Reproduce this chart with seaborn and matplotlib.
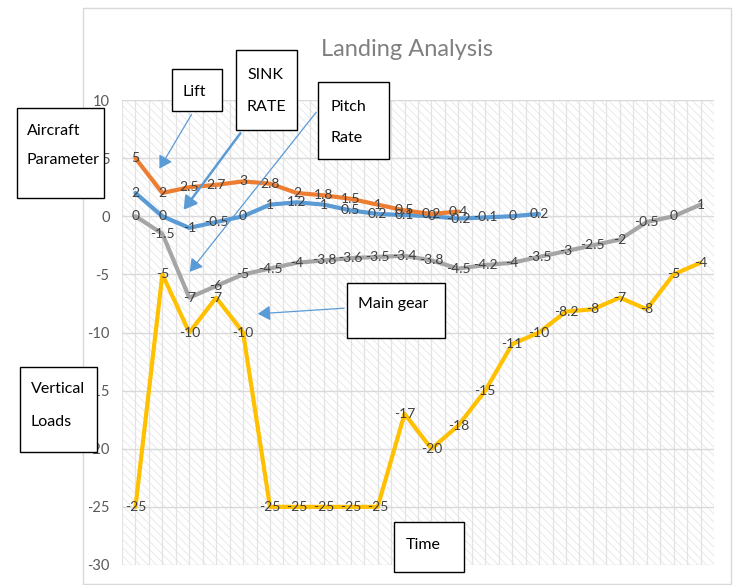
import numpy as np
import pandas as pd
import matplotlib
matplotlib.use("Agg")
import matplotlib.pyplot as plt
import matplotlib.patches as mpatches
import seaborn as sns

# ---- data ----
lift = [5, 2, 2.5, 2.7, 3, 2.8, 2, 1.8, 1.5, 1, 0.5, 0.2, 0.4]
sink_rate = [2, 0, -1, -0.5, 0, 1, 1.2, 1, 0.5, 0.2, 0.1, 0, -0.2, -0.1, 0, 0.2]
pitch_rate = [0, -1.5, -7, -6, -5, -4.5, -4, -3.8, -3.6, -3.5, -3.4, -3.8, -4.5,
              -4.2, -4, -3.5, -3, -2.5, -2, -0.5, 0, 1]
main_gear = [-25, -5, -10, -7, -10, -25, -25, -25, -25, -25, -17, -20, -18, -15,
             -11, -10, -8.2, -8, -7, -8, -5, -4]
y_ticks = [10, 5, 0, -5, -10, -15, -20, -25, -30]
title = "Landing Analysis"

series = {"Lift": lift, "Sink rate": sink_rate, "Pitch rate": pitch_rate,
          "Main gear": main_gear}
colors = {"Lift": "#ED7D31", "Sink rate": "#5B9BD5", "Pitch rate": "#A5A5A5",
          "Main gear": "#FFC000"}

rows = []
for name, vals in series.items():
    for i, v in enumerate(vals):
        rows.append({"t": i, "value": v, "series": name})
df = pd.DataFrame(rows)

sns.set_theme(style="white")
FONT = ["Lato", "DejaVu Sans"]
plt.rcParams["font.family"] = FONT
plt.rcParams["hatch.linewidth"] = 0.5
plt.rcParams["hatch.color"] = "#E2E2E2"

W, H = 733, 585
fig = plt.figure(figsize=(W / 100, H / 100), dpi=100)

def fx(x):
    return x / W

def fy(y):
    return 1 - y / H

# outer chart border
fig.add_artist(mpatches.Rectangle((fx(83), fy(584)), fx(731) - fx(83), fy(8) - fy(584),
                                  transform=fig.transFigure, facecolor="white",
                                  edgecolor="#D9D9D9", lw=1, zorder=0))

ax = fig.add_axes([fx(122), fy(565), fx(714) - fx(122), fy(100) - fy(565)])
ax.set_facecolor("none")
n = len(pitch_rate)
ax.set_xlim(-0.5, n - 0.5)
ax.set_ylim(-30, 10)

# hatched background
ax.add_patch(mpatches.Rectangle((-0.5, -30), n, 40, facecolor="white",
                                edgecolor="#E2E2E2", hatch="\\\\\\\\", lw=0, zorder=0))
for xv in np.arange(-0.5, n - 0.5 + 0.01, 0.5):
    ax.axvline(xv, color="#E3E3E3", lw=0.9, zorder=0.5)
for yv in y_ticks:
    ax.axhline(yv, color="#D9D9D9", lw=1.0, zorder=0.6)

sns.lineplot(data=df, x="t", y="value", hue="series", palette=colors,
             hue_order=["Main gear", "Pitch rate", "Sink rate", "Lift"],
             linewidth=3, legend=False, ax=ax, zorder=3)

for name, vals in series.items():
    for i, v in enumerate(vals):
        ax.text(i, v, f"{v:g}", ha="center", va="center", fontsize=10,
                color="#404040", zorder=5)

ax.set_yticks(y_ticks)
ax.set_yticklabels([f"{v:g}" for v in y_ticks], color="#595959", fontsize=10.5)
ax.set_xticks([])
ax.tick_params(axis="y", length=0, pad=9)
ax.set_xlabel("")
ax.set_ylabel("")
for s in ax.spines.values():
    s.set_visible(False)

fig.text(fx(407), fy(49), title, ha="center", va="center", fontsize=17,
         color="#808080")

def box(x0, y0, x1, y1, lines, tx, tys, fs=11.5):
    fig.add_artist(mpatches.Rectangle((fx(x0), fy(y1)), fx(x1) - fx(x0), fy(y0) - fy(y1),
                                      transform=fig.transFigure, facecolor="white",
                                      edgecolor="black", lw=1.0, zorder=10))
    for line, ty in zip(lines, tys):
        t = fig.text(fx(tx), fy(ty), line, ha="left", va="center", fontsize=fs,
                     color="black")
        t.set_zorder(11)

def arrow(x0, y0, x1, y1, lw=0.9):
    fig.add_artist(mpatches.FancyArrowPatch((fx(x0), fy(y0)), (fx(x1), fy(y1)),
                                            transform=fig.transFigure,
                                            arrowstyle="-|>,head_length=5,head_width=3",
                                            color="#5B9BD5", lw=lw, zorder=9,
                                            mutation_scale=1.5))

arrow(193, 112, 158, 171)
arrow(242, 131, 182, 212, lw=1.8)
arrow(318, 110, 188, 274)
arrow(347, 308, 255, 314)

box(17, 108, 104, 198, ["Aircraft", "Parameter"], 27, [131, 160])
box(172, 69, 222, 111, ["Lift"], 183, [92])
box(236, 50, 297, 130, ["SINK", "RATE"], 247, [75, 107])
box(318, 82, 389, 159, ["Pitch", "Rate"], 330, [107, 138])
box(347, 283, 445, 338, ["Main gear"], 358, [304])
box(20, 367, 97, 452, ["Vertical", "Loads"], 31, [389, 422])
box(394, 522, 464, 572, ["Time"], 406, [545])

fig.savefig("out.png", dpi=100)
